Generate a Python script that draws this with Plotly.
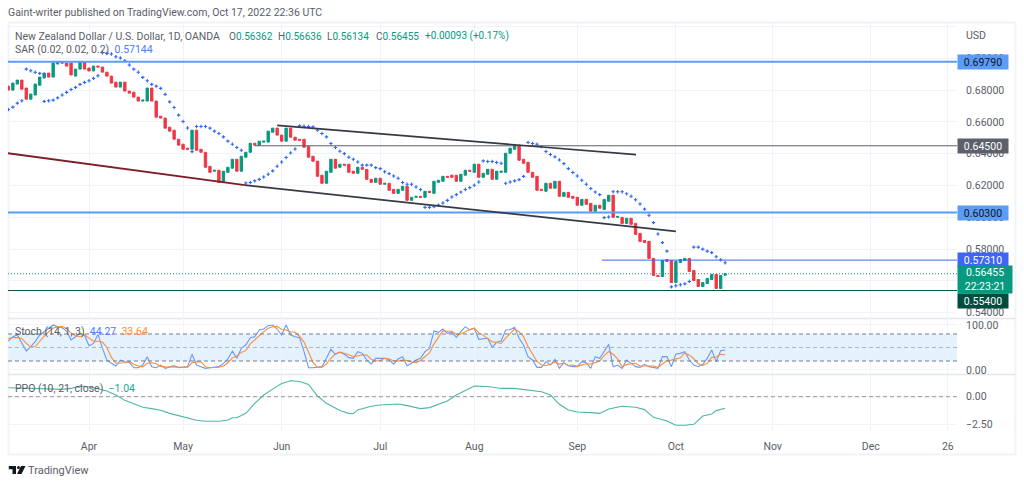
import plotly.graph_objects as go

# ---------- data ----------
open_ = [.6825,.6800,.6838,.6863,.6813,.6743,.6769,.6831,.6876,.6907,.6882,.6964,.6976,.6970,.6970,.6888,.6932,.6976,
.6939,.6920,.6951,.6945,.6913,.6888,.6850,.6819,.6850,.6794,.6787,.6756,.6731,.6731,.6813,.6731,.6636,.6624,.6567,.6548,.6491,.6460,.6435,.6428,.6548,
.6428,.6409,.6321,.6290,.6296,.6220,.6283,.6309,.6365,.6290,.6378,.6409,.6466,.6454,.6473,.6473,.6535,.6561,.6517,.6479,.6561,.6504,.6491,.6491,.6447,.6384,.6353,.6265,
.6214,.6283,.6365,.6315,.6334,.6334,.6290,.6277,.6315,.6302,.6239,.6220,.6246,.6208,.6214,.6176,.6151,.6170,.6195,.6107,.6126,.6132,.6126,.6164,.6151,.6220,.6227,.6258,.6265,.6265,.6227,.6265,.6296,.6283,.6334,.6252,.6271,.6302,.6239,.6283,.6283,.6403,.6428,.6454,.6365,.6346,.6283,.6258,.6176,.6164,.6214,.6183,.6227,.6132,.6157,.6132,.6126,.6076,.6113,.6088,.6038,.6076,.6050,.6101,.6139,.6000,.6000,.5962,.5994,.5962,.5899,.5855,.5849,.5742,.5635,.5628,.5735,.5729,.5590,.5716,.5729,.5742,.5666,.5609,.5565,.5584,.5609,.5641,.5553,.56362]
close = [.6800,.6844,.6863,.6806,.6743,.6775,.6838,.6882,.6907,.6882,.6970,.6976,.6970,.6951,.6895,.6932,.6976,.6932,
.6920,.6951,.6945,.6913,.6888,.6844,.6819,.6850,.6794,.6781,.6756,.6731,.6737,.6813,.6731,.6630,.6624,.6561,.6542,.6491,.6454,.6428,.6428,.6548,.6422,
.6409,.6315,.6283,.6296,.6220,.6290,.6315,.6365,.6290,.6384,.6409,.6466,.6454,.6479,.6479,.6542,.6561,.6517,.6479,.6561,.6504,.6485,.6485,.6441,.6378,.6353,.6258,.6214,
.6290,.6365,.6309,.6334,.6328,.6283,.6277,.6315,.6302,.6239,.6220,.6246,.6208,.6214,.6170,.6151,.6176,.6195,.6107,.6126,.6132,.6126,.6164,.6157,.6227,.6233,.6258,.6252,.6252,.6227,.6271,.6296,.6290,.6334,.6252,.6277,.6302,.6239,.6290,.6290,.6403,.6435,.6454,.6359,.6340,.6283,.6252,.6170,.6170,.6214,.6183,.6227,.6132,.6157,.6126,.6120,.6076,.6113,.6082,.6038,.6076,.6057,.6113,.6139,.6000,.6006,.5962,.5994,.5956,.5893,.5849,.5842,.5742,.5635,.5628,.5729,.5723,.5590,.5723,.5735,.5742,.5660,.5603,.5565,.5590,.5616,.5641,.5553,.5635,.56455]

sar_above_x = list(range(-14,-9))+list(range(3,23))+list(range(24,35))+list(range(47,75))+list(range(88,93))+list(range(98,115))+list(range(117,130))+list(range(135,143))
sar_above = [.6932,.6922,.6912,.6905,.6899,
.7035,.7031,.7027,.7010,.7002,.6985,.6958,.6932,.6912,.6880,.6859,.6836,.6825,.6811,.6773,.6726,.6691,.6643,.6603,.6562,
.6571,.6571,.6571,.6561,.6542,.6527,.6506,.6479,.6460,.6439,.6422,
.6575,.6573,.6571,.6569,.6548,.6527,.6506,.6464,.6439,.6416,.6401,.6378,.6365,.6348,.6328,.6328,.6328,.6313,.6306,.6287,.6275,.6260,.6246,.6219,.6208,.6208,.6191,.6175,
.6355,.6351,.6351,.6345,.6340,
.6471,.6464,.6460,.6445,.6414,.6395,.6380,.6361,.6338,.6306,.6282,.6260,.6233,.6208,.6181,.6159,.6143,
.6161,.6161,.6161,.6148,.6133,.6111,.6084,.6052,.6013,.5967,.5895,.5841,.5788,
.5813,.5813,.5800,.5788,.5778,.5752,.5733,.57144]
sar_below_x = list(range(-18,-14))+list(range(-10,3))+[23]+list(range(35,47))+list(range(75,88))+list(range(93,98))+[115,116]+list(range(130,135))
sar_below = [.6678,.6693,.6718,.6733,
.6729,.6733,.6737,.6751,.6769,.6786,.6804,.6817,.6836,.6849,.6859,.6874,.6890,
.6413,
.6216,.6219,.6229,.6239,.6254,.6271,.6292,.6321,.6348,.6376,.6405,.6430,
.6063,.6063,.6067,.6077,.6090,.6107,.6128,.6143,.6159,.6175,.6187,.6202,.6222,
.6214,.6222,.6229,.6237,.6258,
.5998,.6002,
.5563,.5570,.5576,.5582,.5597]

stoch_k = [64.4,74,77.8,59.2,42.2,51.8,63,77.8,85.2,92.6,100,96.3,94,86.6,66.6,74,81.5,77.8,
54,59,79,48,22,14.8,8.9,22,18.5,17,5,5,11,29.6,7.4,5,11,3.7,7.4,9.6,5,6.6,7.4,34.8,11,7.4,3.7,5,6,7.4,14.8,24.4,42,26,48,55.5,71.8,74,89,91,98.5,100,91,77.8,100,77.8,74,71.8,40.7,5,5,6.6,7.4,26,46,34.8,
39.2,34.8,27.4,25.9,40.7,37,22.2,13.3,25.9,25.9,25.9,22.2,13.3,24.4,29.6,9.6,14.8,22.2,25.9,40.7,48.1,86.6,83.7,91.1,81.5,83.7,72.6,85.2,96.3,88.9,92.6,68.1,68.9,70.4,50.3,61.5,64.4,88.9,89.6,94.8,70.4,55.5,29.6,22.2,5.9,5.9,18.5,11.1,23.7,3.7,16.3,9.6,7.4,7.4,18.5,16.3,3.7,29.6,25.9,40.7,57,7.4,11.1,3.7,22.2,14.8,7.4,5.9,12.6,7.4,5.9,3.7,29.6,29.6,7.4,35.5,37,40.7,22.2,11.1,7.4,12.6,25.9,44.4,18.5,43,44.27]
stoch_d = [70,72,72,70,59,51,52,64,75,85,93,96,97,92,82,76,74,78,
71,64,64,62,50,28,15,15,16,19,13,9,7,15,16,14,8,7,7,7,7,7,6,16,18,18,7,5,5,6,9,16,27,31,39,43,58,67,78,85,93,96,97,90,89,85,84,75,62,40,17,6,6,13,26,36,
40,37,34,30,31,34,33,24,20,21,26,25,20,20,22,21,18,16,21,29,38,58,73,87,86,86,79,80,85,90,93,83,77,69,63,61,59,71,81,91,85,74,52,36,19,11,10,12,18,13,15,10,11,8,11,14,13,17,20,32,41,35,25,7,12,14,15,9,9,9,9,6,13,21,22,24,27,38,33,25,14,10,15,28,29,35,33.64]

ppo_x = [-18,-14,-10,-6,-4,-2,0,2,4,6,8,10,12,14,16,18,21,24,26,28,29,31,32,33,35,37,39,41,43,45,47,49,51,53,56,
58,59,60,63,65,69,71,74,76,80,82,86,89,92,95,98,101,103,105,107,109,112,114,116,119,122,124,126,129,131,133,135,137,139,140,142]
ppo = [.81,.75,.69,.66,.75,.96,.90,.69,.51,.15,-.33,-.63,-.96,-1.08,-1.23,-1.51,-1.81,-2.14,-2.23,-2.26,-2.23,-2.11,-1.90,-1.90,-1.51,-.60,.15,.69,1.20,1.44,1.38,1.11,.06,-.60,-1.25,
-1.51,-1.54,-1.20,-.87,-.75,-.66,-.81,-1.08,-.99,-.39,.15,.96,.93,.75,.75,.60,.45,.15,-.69,-1.20,-1.38,-1.44,-1.51,-1.11,-.87,-.96,-1.17,-1.87,-2.20,-2.59,-2.59,-2.50,-1.75,-1.57,-1.26,-1.04]

date_ticks = [0,21,43,65,86,109,131,152.6,174.5,191.7]
date_labels = ["Apr","May","Jun","Jul","Aug","Sep","Oct","Nov","Dec","26"]
price_ticks = [.54,.56,.58,.60,.62,.64,.66,.68,.70,.72]
price_labels = ["0.54000","0.56000","0.58000","0.60000","0.62000","0.64000","0.66000","0.68000","0.70000",""]

red_line_x, red_line_y = [-18.1,34.8], [.6403,.6202]
lower_channel_x, lower_channel_y = [34.8,131], [.6202,.5912]
upper_channel_x, upper_channel_y = [42,122.1], [.6578,.6394]
levels = [(.6979,-18.1,"#5b9cf6",2),(.645,37,"#5d606b",1),(.603,-18.1,"#5b9cf6",2),(.5731,114.5,"#3d66f5",1),(.554,-18.1,"#00584a",1)]

GREEN, RED = "#089981", "#f23645"
GREY = "#5a5d68"
W, H = 1024, 485
L, R, T, B = 8, 957, 23, 431
FONT = "Roboto"
XR = [(L-89)/4.48, (R-89)/4.48]

def px(x): return (x-L)/(R-L)
def py(y): return (B-y)/(B-T)

fig = go.Figure()
fig.add_trace(go.Candlestick(x=list(range(-18,-18+len(close))), open=open_, close=close,
    high=[max(a,b) for a,b in zip(open_,close)], low=[min(a,b) for a,b in zip(open_,close)],
    increasing=dict(line=dict(color=GREEN,width=1),fillcolor=GREEN),
    decreasing=dict(line=dict(color=RED,width=1),fillcolor=RED), whiskerwidth=0, xaxis="x", yaxis="y"))
for xs, ys in ((sar_above_x,sar_above),(sar_below_x,sar_below)):
    fig.add_trace(go.Scatter(x=xs,y=ys,mode="markers",marker=dict(symbol="cross",size=2.8,color="#2f68f5",line=dict(width=0)),xaxis="x",yaxis="y"))
for price,start,color,width in levels:
    fig.add_trace(go.Scatter(x=[start,XR[1]],y=[price,price],mode="lines",line=dict(color=color,width=width),xaxis="x",yaxis="y"))
fig.add_trace(go.Scatter(x=XR,y=[close[-1],close[-1]],mode="lines",line=dict(color=GREEN,width=1,dash="1px,2px"),xaxis="x",yaxis="y"))
fig.add_trace(go.Scatter(x=red_line_x,y=red_line_y,mode="lines",line=dict(color="#7e1d25",width=1.8),xaxis="x",yaxis="y"))
for xs,ys in ((lower_channel_x,lower_channel_y),(upper_channel_x,upper_channel_y)):
    fig.add_trace(go.Scatter(x=xs,y=ys,mode="lines",line=dict(color="#363a45",width=1.7),xaxis="x",yaxis="y"))

bars = list(range(-18,-18+len(stoch_k)))
fig.add_trace(go.Scatter(x=bars,y=stoch_k,mode="lines",line=dict(color="#6b97fb",width=1.1),xaxis="x2",yaxis="y2"))
fig.add_trace(go.Scatter(x=bars,y=stoch_d,mode="lines",line=dict(color="#ff8c3a",width=1.1),xaxis="x2",yaxis="y2"))
fig.add_trace(go.Scatter(x=ppo_x,y=ppo,mode="lines",line=dict(color="#4db6a6",width=1.1),xaxis="x3",yaxis="y3"))

grid = "#f0f3fa"
shapes = [
    dict(type="rect",xref="x2 domain",yref="y2",x0=0,x1=1,y0=20,y1=80,fillcolor="#e3f2fd",line_width=0,layer="below"),
    dict(type="line",xref="x2 domain",yref="y2",x0=0,x1=1,y0=80,y1=80,line=dict(color="#787b86",width=1,dash="4px,3px")),
    dict(type="line",xref="x2 domain",yref="y2",x0=0,x1=1,y0=50,y1=50,line=dict(color="#b2b5be",width=1,dash="4px,3px")),
    dict(type="line",xref="x2 domain",yref="y2",x0=0,x1=1,y0=20,y1=20,line=dict(color="#787b86",width=1,dash="4px,3px")),
    dict(type="line",xref="x3 domain",yref="y3",x0=0,x1=1,y0=0,y1=0,line=dict(color="#9598a1",width=1,dash="4px,3px")),
    dict(type="rect",xref="paper",yref="paper",x0=px(8.5),x1=px(1015.5),y0=py(22.5),y1=py(454.5),line=dict(color=grid,width=2),layer="below"),
    dict(type="line",xref="paper",yref="paper",x0=px(8.5),x1=px(1015),y0=py(318.5),y1=py(318.5),line=dict(color="#e4e6ee",width=1.5),layer="below"),
    dict(type="line",xref="paper",yref="paper",x0=px(8.5),x1=px(1015),y0=py(374.5),y1=py(374.5),line=dict(color="#e4e6ee",width=1.5),layer="below"),
]
# TradingView logo
def pth(pts): return "M"+" L".join(f"{px(a):.5f},{py(b):.5f}" for a,b in pts)+" Z"
logo = [[(8.8,466),(16,466),(16,474),(12.5,474),(12.5,469.2),(8.8,469.2)],[(21,466),(25.5,466),(21.5,474),(17,474)]]
for p in logo:
    shapes.append(dict(type="path",xref="paper",yref="paper",path=pth(p),fillcolor="#131722",line_width=0))
shapes.append(dict(type="circle",xref="paper",yref="paper",x0=px(17),x1=px(20),y0=py(466),y1=py(469),fillcolor="#131722",line_width=0))

def note(x,y,text,size=10.5,color=GREY,**kw):
    d = dict(xref="paper",yref="paper",x=px(x-2),y=py(y),text=text,showarrow=False,xanchor="left",yanchor="middle",font=dict(family=FONT,size=size,color=color))
    d.update(kw); return d
def span(c,t): return f'<span style="color:{c}">{t}</span>'
T_ = "#089981"
anns = [
    note(8,12,"Gaint-writer published on TradingView.com, Oct 17, 2022 22:36 UTC"),
    note(15,36,"New Zealand Dollar / U.S. Dollar, 1D, OANDA"),
    note(229,36,"O"+span(T_,"0.56362"),size=10),
    note(278,36,"H"+span(T_,"0.56636"),size=10),
    note(327,36,"L"+span(T_,"0.56134"),size=10),
    note(376,36,"C"+span(T_,"0.56455"),size=10),
    note(425,36,span(T_,"+0.00093 (+0.17%)"),size=10),
    note(15,50,"SAR (0.02, 0.02, 0.2)  "+span("#4a7df7","0.57144")),
    note(15,331,"Stoch (14, 1, 3)  "+span("#4a7df7","44.27")+"  "+span("#ff8c3a","33.64")),
    note(15,388,"PPO (10, 21, close)  "+span("#26a69a","−1.04")),
    note(966,35,"USD"),
    note(28,470,"TradingView",size=11),
]
tags = [(.6979,"0.69790","#5b9cf6","#131722",0,50,14),(.645,"0.64500","#5d606b","#ffffff",0,50,14),(.603,"0.60300","#5b9cf6","#131722",0,50,14),
        (.5731,"0.57310","#3d66f5","#ffffff",0,50,14),(.56455,"0.56455<br>22:23:21","#089981","#ffffff",-6,54,27),(.554,"0.55400","#004d40","#ffffff",-10,50,14)]
for price,text,bg,fg,shift,w,h in tags:
    anns.append(dict(xref="paper",yref="y",x=1,y=price,text=text,showarrow=False,xanchor="left",yanchor="middle",yshift=shift,
        width=w,height=h,bgcolor=bg,borderpad=0,align="center",font=dict(family=FONT,size=10.5,color=fg)))

ax = dict(range=XR,showgrid=True,gridcolor=grid,gridwidth=1,zeroline=False,tickmode="array",tickvals=date_ticks,ticktext=date_labels,showline=False,ticks="")
ya = dict(side="right",showgrid=True,gridcolor=grid,zeroline=False,showline=False,ticks="outside",ticklen=6,tickcolor="rgba(0,0,0,0)",
          tickfont=dict(family=FONT,size=10.5,color=GREY),tickmode="array")
fig.update_layout(
    width=W,height=H,margin=dict(l=L,r=W-R,t=T,b=H-B),paper_bgcolor="white",plot_bgcolor="white",showlegend=False,hovermode=False,
    shapes=shapes,annotations=anns,
    xaxis=dict(ax,domain=[0,1],anchor="y",showticklabels=False,rangeslider=dict(visible=False)),
    xaxis2=dict(ax,domain=[0,1],anchor="y2",showticklabels=False),
    xaxis3=dict(ax,domain=[0,1],anchor="y3",showticklabels=True,ticks="outside",ticklen=5,tickcolor="rgba(0,0,0,0)",tickfont=dict(family=FONT,size=10.5,color=GREY)),
    yaxis=dict(ya,domain=[112.5/408,1],anchor="x",range=[.5364,.7222],tickvals=price_ticks,ticktext=price_labels),
    yaxis2=dict(ya,domain=[57/408,112/408],anchor="x2",range=[-8.9,113.3],tickvals=[0,100],ticktext=["0.00","100.00"]),
    yaxis3=dict(ya,domain=[0,56/408],anchor="x3",range=[-3.107,1.966],tickvals=[0,-2.5],ticktext=["0.00","−2.50"]),
    boxgap=0.25,
)
fig.write_html("out.html",config=dict(displayModeBar=False),post_script="document.body.style.margin='0';document.body.style.overflow='hidden';")
